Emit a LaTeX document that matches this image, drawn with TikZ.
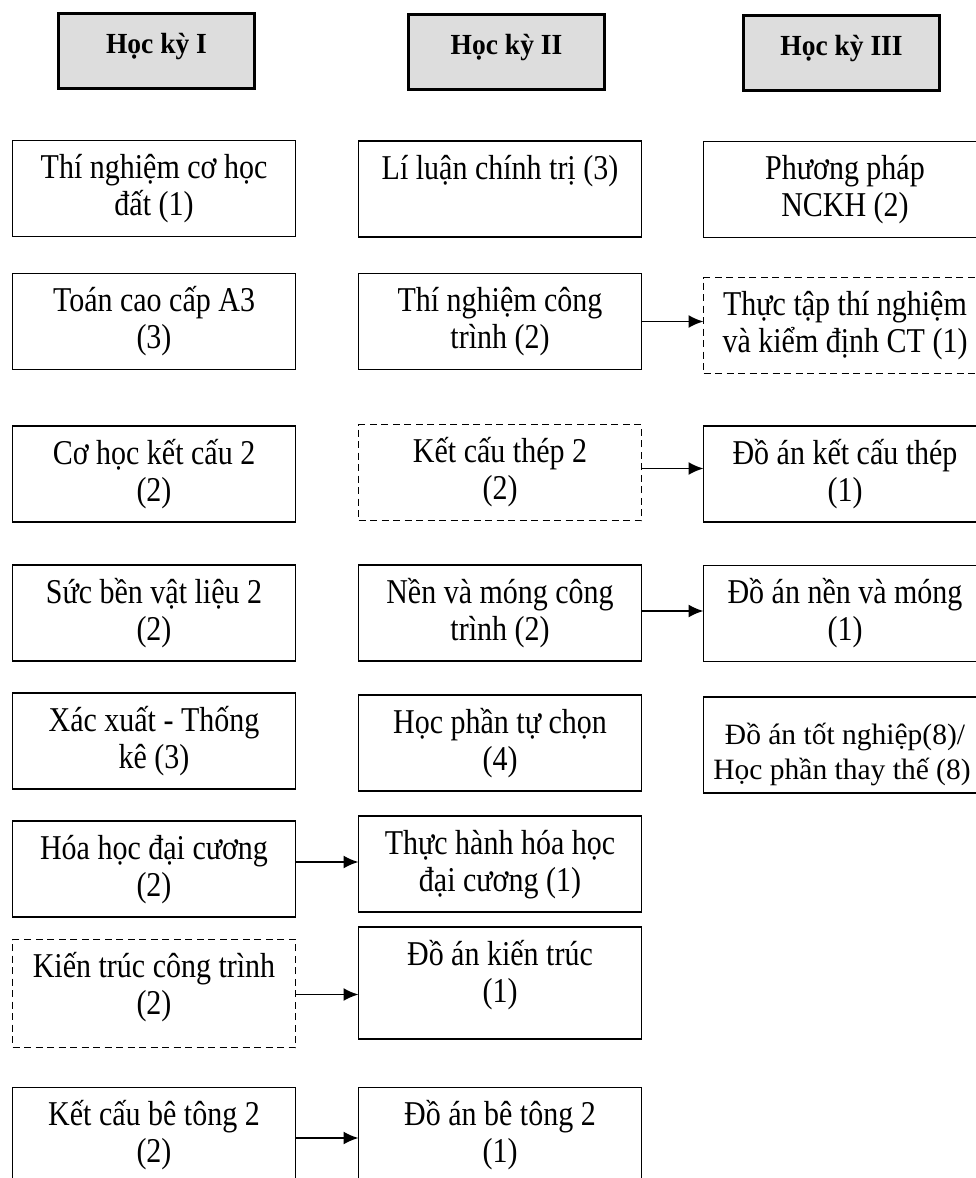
\documentclass[tikz,border=0pt]{standalone}
\usepackage{graphicx}
\usepackage{fontspec}
\setmainfont{Liberation Serif}
\usetikzlibrary{arrows.meta}
\definecolor{hdrgray}{HTML}{DDDDDD}
\newcommand{\vst}[1]{\scalebox{1}[1.16]{#1}}
\newcommand{\bxt}[3][96]{\parbox[c][#1pt][t]{283pt}{\centering\fontsize{30pt}{37pt}\selectfont\rule{0pt}{38pt}\vst{#2}\\\vst{#3}\par}}
\newcommand{\bxo}[2][96]{\parbox[c][#1pt][t]{283pt}{\centering\fontsize{30pt}{37pt}\selectfont\rule{0pt}{38pt}\vst{#2}\par}}
\newcommand{\hdt}[1]{\parbox[c][75pt][t]{196pt}{\centering\bfseries\fontsize{27.5pt}{33pt}\selectfont\rule{0pt}{40pt}\scalebox{1}[1.06]{#1}\par}}
\begin{document}
\begin{tikzpicture}[x=1pt,y=-1pt,
  box/.style={draw, line width=1.8pt, inner sep=0pt, outer sep=0pt},
  dbox/.style={box, line width=1.6pt, dash pattern=on 7pt off 4.5pt},
  hdr/.style={draw, line width=3pt, fill=hdrgray, inner sep=0pt, outer sep=0pt},
  conn/.style={line width=1.8pt, -{Latex[length=15pt,width=13pt]}}]
\useasboundingbox (0,0) rectangle (976,1178);
\clip (0,0) rectangle (976,1178);
% headers
\node[hdr] (h1) at (156.5,51) {\hdt{Học kỳ I}};
\node[hdr] (h2) at (506.5,51.5) {\hdt{Học kỳ II}};
\node[hdr] (h3) at (841.5,52.5) {\hdt{Học kỳ III}};
% column 1
\node[box]  (a1) at (154,188.5) {\bxt{Thí nghiệm cơ học}{đất (1)}};
\node[box]  (a2) at (154,321.5) {\bxt{Toán cao cấp A3}{(3)}};
\node[box]  (a3) at (154,474) {\bxt{Cơ học kết cấu 2}{(2)}};
\node[box]  (a4) at (154,613) {\bxt{Sức bền vật liệu 2}{(2)}};
\node[box]  (a5) at (154,741) {\bxt{Xác xuất - Thống}{kê (3)}};
\node[box]  (a6) at (154,869) {\bxt{Hóa học đại cương}{(2)}};
\node[dbox] (a7) at (154,993.5) {\bxt[108]{Kiến trúc công trình}{(2)}};
\node[box]  (a8) at (154,1135.5) {\bxt{Kết cấu bê tông 2}{(2)}};
% column 2
\node[box]  (b1) at (500,189) {\bxo{Lí luận chính trị (3)}};
\node[box]  (b2) at (500,321.5) {\bxt{Thí nghiệm công}{trình (2)}};
\node[dbox] (b3) at (500,472.5) {\bxt{Kết cấu thép 2}{(2)}};
\node[box]  (b4) at (500,613) {\bxt{Nền và móng công}{trình (2)}};
\node[box]  (b5) at (500,743) {\bxt{Học phần tự chọn}{(4)}};
\node[box]  (b6) at (500,864) {\bxt{Thực hành hóa học}{đại cương (1)}};
\node[box]  (b7) at (500,983) {\bxt[112]{Đồ án kiến trúc}{(1)}};
\node[box]  (b8) at (500,1135.5) {\bxt{Đồ án bê tông 2}{(1)}};
% column 3
\node[box]  (c1) at (845,189.5) {\bxt{Phương pháp}{NCKH (2)}};
\node[dbox] (c2) at (845,325.5) {\bxt{Thực tập thí nghiệm}{và kiểm định CT (1)}};
\node[box]  (c3) at (845,474) {\bxt{Đồ án kết cấu thép}{(1)}};
\node[box]  (c4) at (845,613.5) {\bxt{Đồ án nền và móng}{(1)}};
\node[box]  (c5) at (845,745) {\parbox[c][96pt][t]{283pt}{\centering\fontsize{29.5pt}{35pt}\selectfont\rule{0pt}{47pt}Đồ án tốt nghiệp(8)/\hspace*{6pt}\\Học phần thay thế (8)\hspace*{6pt}\par}};
% connectors
\draw[conn] (b2.east) -- (b2.east -| c2.west);
\draw[conn] ([yshift=4pt]b3.east) -- ([yshift=4pt]b3.east -| c3.west);
\draw[conn] ([yshift=2pt]b4.east) -- ([yshift=2pt]b4.east -| c4.west);
\draw[conn] ([yshift=7pt]a6.east) -- ([yshift=7pt]a6.east -| b6.west);
\draw[conn] ([yshift=-1pt]a7.east) -- ([yshift=-1pt]a7.east -| b7.west);
\draw[conn] ([yshift=-2.5pt]a8.east) -- ([yshift=-2.5pt]a8.east -| b8.west);
\end{tikzpicture}
\end{document}
